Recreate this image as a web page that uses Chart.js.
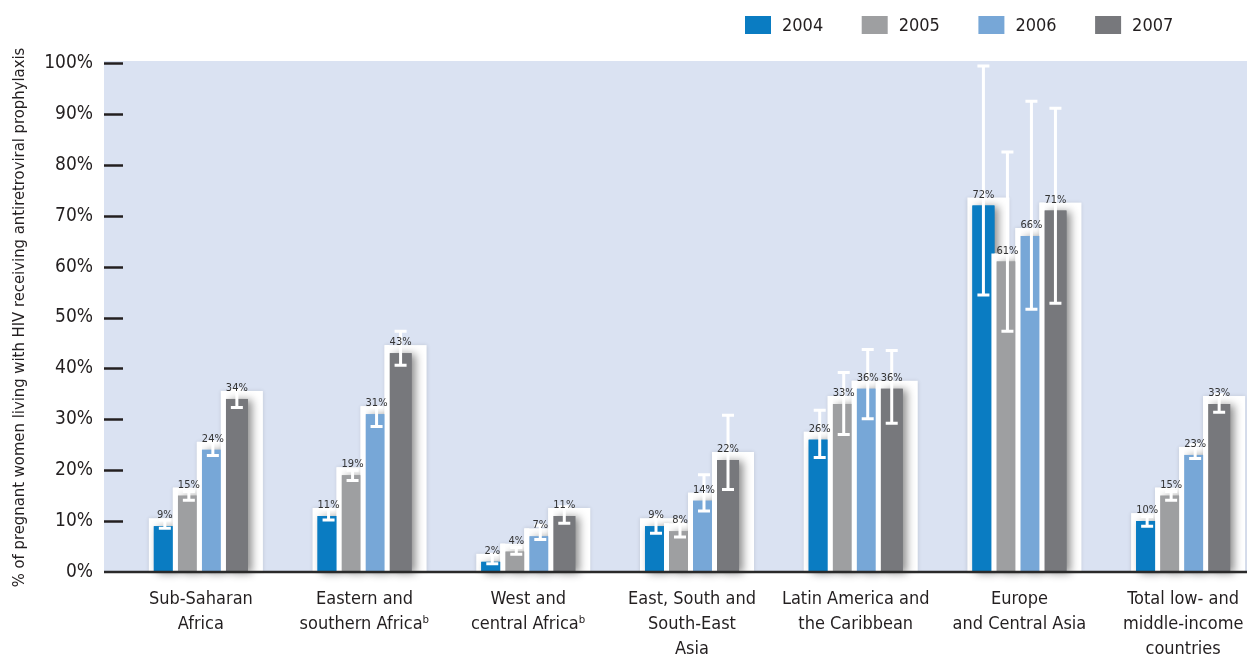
<!DOCTYPE html>
<html>
<head>
<meta charset="utf-8">
<title>Antiretroviral prophylaxis coverage by region</title>
<script src="https://cdn.jsdelivr.net/npm/chart.js@4.4.1/dist/chart.umd.min.js"></script>
<style>
  html, body { margin: 0; padding: 0; background: #fff; overflow: hidden; }
</style>
</head>
<body>
<canvas id="coverage" width="1265" height="655"></canvas>
<script>
// categories (multi-line labels)
const regions = [
  ['Sub-Saharan', 'Africa'],
  ['Eastern and', 'southern Africaᵇ'],
  ['West and', 'central Africaᵇ'],
  ['East, South and', 'South-East', 'Asia'],
  ['Latin America and', 'the Caribbean'],
  ['Europe', 'and Central Asia'],
  ['Total low- and', 'middle-income', 'countries']
]
const years = ['2004', '2005', '2006', '2007']

// coverage in %, with uncertainty ranges
const coverage2004 = [9, 11, 2, 9, 26, 72, 10]
const coverage2005 = [15, 19, 4, 8, 33, 61, 15]
const coverage2006 = [24, 31, 7, 14, 36, 66, 23]
const coverage2007 = [34, 43, 11, 22, 36, 71, 33]

const low2004 = [8.6, 10.2, 1.6, 7.6, 22.5, 54.4, 9.0]
const high2004 = [10.2, 12.4, 3.5, 10.8, 31.8, 99.4, 10.9]
const low2005 = [14.1, 18.0, 3.5, 6.9, 27.0, 47.3, 14.1]
const high2005 = [15.8, 20.0, 4.8, 9.5, 39.2, 82.5, 15.8]
const low2006 = [22.9, 28.6, 6.4, 12.0, 30.1, 51.6, 22.3]
const high2006 = [25.6, 32.4, 9.2, 19.1, 43.7, 92.5, 25.0]
const low2007 = [32.3, 40.6, 9.6, 16.2, 29.2, 52.8, 31.4]
const high2007 = [35.8, 47.3, 12.8, 30.8, 43.5, 91.1, 34.8]

const yTickValues = [0, 10, 20, 30, 40, 50, 60, 70, 80, 90, 100]

const colors = ['#0a7cc2', '#9e9fa1', '#77a7d7', '#77787c']
const lows = [low2004, low2005, low2006, low2007]
const highs = [high2004, high2005, high2006, high2007]

const FONT = "'DejaVu Sans Condensed', 'Liberation Sans Narrow', sans-serif"
const TEXT = '#231f20'
const PLOT_LEFT = 104

// light blue plot panel, tick marks, white panels and shadows behind the bars
const backdrop = {
  id: 'backdrop',
  beforeDraw(chart) {
    const { ctx, chartArea } = chart
    ctx.save()
    ctx.fillStyle = '#dae2f2'
    ctx.fillRect(PLOT_LEFT, chartArea.top - 2, chart.width - PLOT_LEFT, chartArea.bottom - chartArea.top + 2)
    ctx.restore()
  },
  beforeDatasetsDraw(chart) {
    const { ctx } = chart
    const y = chart.scales.y
    ctx.save()
    ctx.strokeStyle = TEXT
    ctx.lineWidth = 2.5
    yTickValues.forEach(v => {
      if (v === 0) return
      const py = Math.round(y.getPixelForValue(v)) + 0.5
      ctx.beginPath()
      ctx.moveTo(PLOT_LEFT, py)
      ctx.lineTo(PLOT_LEFT + 19, py)
      ctx.stroke()
    })
    ctx.restore()

    chart.data.datasets.forEach((ds, d) => {
      const bars = chart.getDatasetMeta(d).data
      bars.forEach(bar => {
        ctx.save()
        ctx.shadowColor = 'rgba(0,0,0,0.12)'
        ctx.shadowBlur = 4
        ctx.fillStyle = '#ffffff'
        ctx.fillRect(bar.x - bar.width / 2 - 5, bar.y - 8, bar.width + 20, bar.base - bar.y + 8)
        ctx.restore()
      })
      bars.forEach(bar => {
        ctx.save()
        ctx.shadowColor = 'rgba(0,0,0,0.45)'
        ctx.shadowBlur = 8
        ctx.shadowOffsetX = 4
        ctx.shadowOffsetY = 1
        ctx.fillStyle = ds.backgroundColor
        ctx.fillRect(bar.x - bar.width / 2, bar.y, bar.width, bar.base - bar.y)
        ctx.restore()
      })
    })
  },
  afterDatasetsDraw(chart) {
    const { ctx, chartArea } = chart
    const y = chart.scales.y

    // left edge of each panel overlaps the neighbouring bar
    ctx.save()
    ctx.fillStyle = '#ffffff'
    chart.data.datasets.forEach((ds, d) => {
      if (d === 0) return
      chart.getDatasetMeta(d).data.forEach(bar => {
        ctx.fillRect(bar.x - bar.width / 2 - 5, bar.y - 8, 5, bar.base - bar.y + 8)
      })
    })
    ctx.restore()

    // baseline
    ctx.save()
    ctx.strokeStyle = '#2a2a2a'
    ctx.lineWidth = 2.5
    ctx.beginPath()
    ctx.moveTo(PLOT_LEFT, chartArea.bottom)
    ctx.lineTo(chart.width, chartArea.bottom)
    ctx.stroke()
    ctx.restore()

    // error bars
    ctx.save()
    ctx.strokeStyle = '#ffffff'
    ctx.lineWidth = 3
    chart.data.datasets.forEach((ds, d) => {
      chart.getDatasetMeta(d).data.forEach((bar, i) => {
        const yl = y.getPixelForValue(lows[d][i])
        const yh = y.getPixelForValue(highs[d][i])
        ctx.beginPath()
        ctx.moveTo(bar.x, yl)
        ctx.lineTo(bar.x, yh)
        ctx.moveTo(bar.x - 6, yl)
        ctx.lineTo(bar.x + 6, yl)
        ctx.moveTo(bar.x - 6, yh)
        ctx.lineTo(bar.x + 6, yh)
        ctx.stroke()
      })
    })
    ctx.restore()

    // value labels
    ctx.save()
    ctx.fillStyle = '#333333'
    ctx.font = '11px ' + FONT
    ctx.textAlign = 'center'
    ctx.textBaseline = 'alphabetic'
    chart.data.datasets.forEach((ds, d) => {
      chart.getDatasetMeta(d).data.forEach((bar, i) => {
        ctx.fillText(ds.data[i] + '%', bar.x, bar.y - 8)
      })
    })
    ctx.restore()
  },
  afterDraw(chart) {
    // legend row at the top right
    const { ctx } = chart
    ctx.save()
    ctx.font = '18px ' + FONT
    ctx.textBaseline = 'middle'
    ctx.textAlign = 'left'
    chart.data.datasets.forEach((ds, d) => {
      const x = 745 + d * 116.7
      ctx.fillStyle = ds.backgroundColor
      ctx.fillRect(x, 16, 26, 18)
      ctx.fillStyle = TEXT
      ctx.fillText(ds.label, x + 37, 26)
    })
    ctx.restore()
  }
}

const datasetsFor = [coverage2004, coverage2005, coverage2006, coverage2007]

new Chart(document.getElementById('coverage'), {
  type: 'bar',
  data: {
    labels: regions,
    datasets: years.map((yr, d) => ({
      label: yr,
      data: datasetsFor[d],
      backgroundColor: colors[d],
      borderWidth: 0,
      categoryPercentage: 0.5865,
      barPercentage: 0.917
    }))
  },
  options: {
    responsive: false,
    animation: false,
    layout: { padding: { top: 63, right: 0, bottom: 0, left: 0 } },
    plugins: {
      legend: { display: false },
      tooltip: { enabled: false }
    },
    scales: {
      x: {
        grid: { display: false, drawTicks: false },
        border: { display: false },
        ticks: {
          color: TEXT,
          font: { family: FONT, size: 18, lineHeight: 1.39 },
          padding: 15,
          maxRotation: 0,
          autoSkip: false
        },
        afterFit(scale) { scale.height = 83 }
      },
      y: {
        min: 0,
        max: 100,
        grid: { display: false, drawTicks: false },
        border: { display: false },
        ticks: {
          stepSize: 10,
          color: TEXT,
          font: { family: FONT, size: 19 },
          padding: 26,
          callback: v => v + '%'
        },
        title: {
          display: true,
          text: '% of pregnant women living with HIV receiving antiretroviral prophylaxis',
          color: TEXT,
          font: { family: FONT, size: 16.5 },
          padding: { top: 10, bottom: 0 }
        },
        afterFit(scale) { scale.width = 119 }
      }
    }
  },
  plugins: [backdrop]
})
</script>
</body>
</html>
